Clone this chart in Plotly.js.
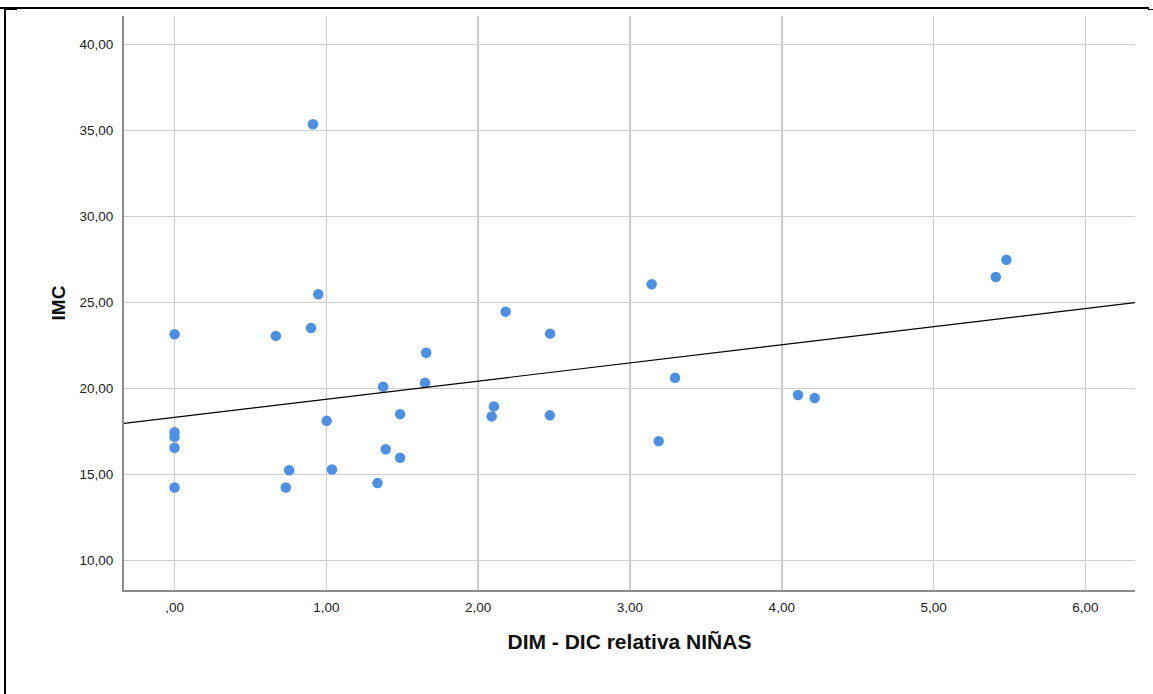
<!DOCTYPE html>
<html>
<head>
<meta charset="utf-8">
<script src="https://cdn.plot.ly/plotly-3.0.1.min.js"></script>
<style>
  html, body { margin: 0; padding: 0; background: #fff; }
  #wrap { position: relative; width: 1153px; height: 694px; overflow: hidden; }
  #chart { position: absolute; left: 0; top: 0; width: 1153px; height: 694px; }
  .rule { position: absolute; background: #000; }
</style>
</head>
<body>
<div id="wrap">
  <div id="chart"></div>
  <div class="rule" style="left:0;top:7px;width:1149px;height:2px;"></div>
  <div class="rule" style="left:4px;top:7px;width:2px;height:687px;"></div>
  <div class="rule" style="left:5px;top:9px;width:12px;height:1px;"></div>
  <div class="rule" style="left:1148px;top:9px;width:5px;height:1px;"></div>
</div>
<script>
// DIM - DIC relativa (niñas) against IMC
const dimDic = [
  0, 0, 0, 0, 0,
  0.667, 0.899, 0.912, 0.947, 1.002, 0.755, 0.733, 1.037,
  1.374, 1.650, 1.658, 1.486, 1.391, 1.486, 1.337,
  2.181, 2.474, 2.104, 2.089, 2.472,
  3.143, 3.297, 3.189,
  4.107, 4.217,
  5.410, 5.480
];
const imc = [
  23.16, 17.46, 17.19, 16.55, 14.24,
  23.06, 23.52, 35.37, 25.48, 18.12, 15.25, 14.24, 15.29,
  20.10, 20.33, 22.08, 18.51, 16.47, 15.97, 14.50,
  24.47, 23.19, 18.96, 18.38, 18.44,
  26.06, 20.62, 16.94,
  19.62, 19.45,
  26.48, 27.49
];

const xTickVals = [0, 1, 2, 3, 4, 5, 6];
const xTickText = [',00', '1,00', '2,00', '3,00', '4,00', '5,00', '6,00'];
const yTickVals = [10, 15, 20, 25, 30, 35, 40];
const yTickText = ['10,00', '15,00', '20,00', '25,00', '30,00', '35,00', '40,00'];

const xRange = [-0.333, 6.327];
const yRange = [8.285, 41.66];

// least-squares fit line across the full x range
function linearFit(xs, ys) {
  const n = xs.length;
  let sx = 0, sy = 0;
  for (let i = 0; i < n; i++) { sx += xs[i]; sy += ys[i]; }
  const mx = sx / n, my = sy / n;
  let sxx = 0, sxy = 0;
  for (let i = 0; i < n; i++) {
    sxx += (xs[i] - mx) * (xs[i] - mx);
    sxy += (xs[i] - mx) * (ys[i] - my);
  }
  const b = sxy / sxx;
  return { a: my - b * mx, b: b };
}
const fit = linearFit(dimDic, imc);
const fitX = xRange.slice();
const fitY = fitX.map(x => fit.a + fit.b * x);

const font = "'Liberation Sans', Arial, sans-serif";

const traces = [
  {
    x: dimDic, y: imc, type: 'scatter', mode: 'markers',
    marker: { color: 'rgb(77,144,226)', size: 10.5, line: { width: 0 } },
    hoverinfo: 'x+y', showlegend: false
  },
  {
    x: fitX, y: fitY, type: 'scatter', mode: 'lines',
    line: { color: '#000', width: 1.2 },
    hoverinfo: 'skip', showlegend: false
  }
];

const layout = {
  width: 1153, height: 694,
  margin: { l: 124, r: 18, t: 16, b: 104 },
  paper_bgcolor: '#fff', plot_bgcolor: '#fff',
  font: { family: font, color: '#222' },
  xaxis: {
    range: xRange, autorange: false,
    tickvals: xTickVals, ticktext: xTickText,
    showgrid: true, gridcolor: 'rgb(205,205,205)', gridwidth: 1.6,
    zeroline: false, showline: true, linecolor: 'rgb(140,140,140)', linewidth: 2,
    ticks: '', ticklabelstandoff: 4,
    tickfont: { family: font, size: 13.5, color: '#222' },
    title: { text: 'DIM - DIC relativa NIÑAS', font: { family: font, size: 21, color: '#111', weight: 'bold' }, standoff: 20 }
  },
  yaxis: {
    range: yRange, autorange: false,
    tickvals: yTickVals, ticktext: yTickText,
    showgrid: true, gridcolor: 'rgb(205,205,205)', gridwidth: 1.6,
    zeroline: false, showline: true, linecolor: 'rgb(140,140,140)', linewidth: 2,
    ticks: '', ticklabelstandoff: 6,
    tickfont: { family: font, size: 13.5, color: '#222' },
    title: { text: 'IMC', font: { family: font, size: 19, color: '#111', weight: 'bold' }, standoff: 9 }
  }
};

Plotly.newPlot('chart', traces, layout, { staticPlot: true, displayModeBar: false });
</script>
</body>
</html>
